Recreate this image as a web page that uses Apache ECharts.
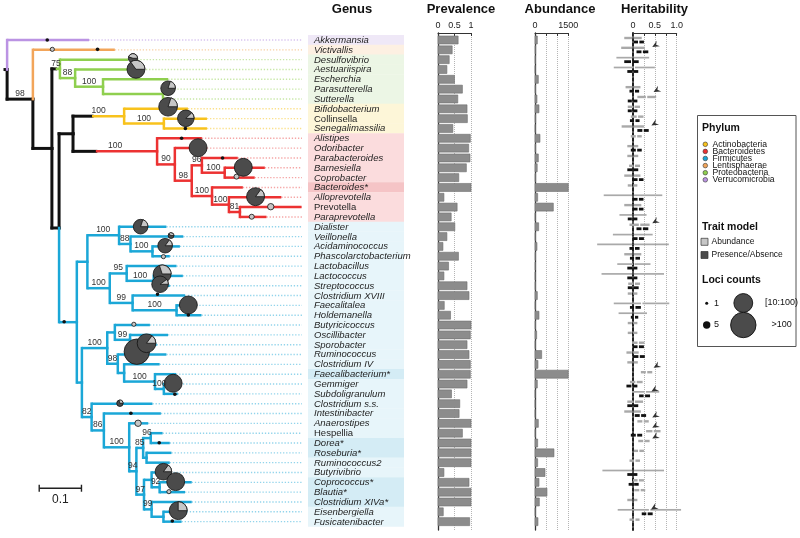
<!DOCTYPE html>
<html>
<head>
<meta charset="utf-8">
<script src="https://cdn.jsdelivr.net/npm/echarts@6/dist/echarts.min.js"></script>
<style>
html,body{margin:0;padding:0;background:#ffffff;}
#chart{width:800px;height:538px;}
</style>
</head>
<body>
<div id="chart"></div>
<script>
// ======================= DATA =======================
const genera = ['Akkermansia','Victivallis','Desulfovibrio','Aestuariispira','Escherchia','Parasutterella','Sutterella',
'Bifidobacterium','Collinsella','Senegalimassilia','Alistipes','Odoribacter','Parabacteroides','Barnesiella','Coprobacter',
'Bacteroides*','Alloprevotella','Prevotella','Paraprevotella','Dialister','Veillonella','Acidaminococcus',
'Phascolarctobacterium','Lactobacillus','Lactococcus','Streptococcus','Clostridium XVIII','Faecalitalea','Holdemanella',
'Butyricicoccus','Oscillibacter','Sporobacter','Ruminococcus','Clostridium IV','Faecalibacterium*','Gemmiger',
'Subdoligranulum','Clostridium s.s.','Intestinibacter','Anaerostipes','Hespellia','Dorea*','Roseburia*','Ruminococcus2',
'Butyrivibrio','Coprococcus*','Blautia*','Clostridium XIVa*','Eisenbergiella','Fusicatenibacter'];

// phylum code per genus (A Actinobacteria, B Bacteroidetes, F Firmicutes, L Lentisphaerae, P Proteobacteria, V Verrucomicrobia)
const genusPhylum = [
'V','L','P','P','P','P','P','A','A','A',
'B','B','B','B','B','B','B','B','B','F',
'F','F','F','F','F','F','F','F','F','F',
'F','F','F','F','F','F','F','F','F','F',
'F','F','F','F','F','F','F','F','F','F'];

const uprightGenera = ['Collinsella','Prevotella','Hespellia'];

const prevalence = [0.61,0.43,0.34,0.27,0.50,0.74,0.60,0.88,0.89,0.45,
0.98,0.93,0.97,0.86,0.63,1.00,0.18,0.58,0.40,0.51,
0.27,0.15,0.62,0.32,0.18,0.88,0.94,0.19,0.38,1.00,
0.98,0.88,0.94,0.98,0.98,0.88,0.41,0.66,0.64,1.00,
0.74,1.00,1.00,1.00,0.18,0.94,1.00,1.00,0.16,0.96];

const abundance = [105,30,20,10,150,25,90,180,30,15,
225,30,150,100,30,1500,120,825,15,165,
20,90,25,20,15,20,105,15,180,20,
75,15,300,135,1500,105,10,10,10,150,
15,120,855,120,450,180,540,195,15,135];

// heritability [low, median, high] ; abundance model (grey) and presence/absence model (black)
const herAbundance = [
[-0.20,0.00,0.20],[-0.27,0.00,0.27],[-0.38,0.00,0.37],[-0.44,0.03,0.50],null,
[-0.17,0.00,0.17],[0.10,0.31,0.53],[-0.12,0.02,0.16],[-0.05,0.10,0.24],[-0.26,0.00,0.25],
[-0.05,0.08,0.20],[-0.13,0.00,0.12],[-0.13,0.00,0.12],[-0.09,0.03,0.16],[-0.20,0.00,0.17],
[-0.12,-0.01,0.10],[-0.67,0.00,0.67],[-0.20,0.00,0.19],[-0.31,0.00,0.31],[-0.08,0.15,0.38],
[-0.46,0.00,0.45],[-0.82,0.00,0.82],[-0.20,0.00,0.19],[-0.36,0.02,0.40],[-0.72,0.00,0.71],
[-0.11,0.03,0.16],[-0.12,-0.01,0.10],[-0.44,0.20,0.83],[-0.33,0.00,0.32],[-0.12,-0.01,0.10],
[-0.12,-0.01,0.10],[-0.02,0.12,0.26],[-0.15,-0.01,0.13],[-0.13,0.00,0.11],[0.18,0.31,0.44],
[-0.07,0.07,0.22],[-0.02,0.28,0.60],[-0.13,0.03,0.23],[-0.20,0.00,0.18],[0.10,0.23,0.36],
[0.30,0.46,0.63],[0.12,0.25,0.38],[0.02,0.13,0.25],[-0.08,0.04,0.16],[-0.70,0.00,0.71],
[0.00,0.12,0.25],[0.03,0.16,0.28],[-0.13,0.00,0.10],[-0.35,0.38,1.10],[-0.08,0.04,0.15]];

const herPresence = [
[0.02,0.13,0.25],[0.08,0.21,0.35],[-0.20,-0.03,0.13],[-0.13,0.00,0.12],null,
[-0.08,0.03,0.14],[-0.12,-0.01,0.10],[-0.12,-0.01,0.10],[-0.07,0.04,0.15],[0.10,0.23,0.36],
null,[-0.05,0.08,0.20],null,[-0.13,0.00,0.12],[-0.02,0.12,0.24],
null,[0.00,0.12,0.24],[0.00,0.12,0.24],[-0.12,-0.01,0.10],[0.08,0.21,0.35],
[0.00,0.12,0.25],[-0.08,0.03,0.15],[-0.07,0.04,0.16],[-0.13,0.00,0.10],[-0.13,0.00,0.10],
[-0.12,0.00,0.13],null,[-0.07,0.04,0.18],[-0.05,0.03,0.12],null,
null,[0.00,0.12,0.25],[0.00,0.14,0.27],null,null,
[-0.15,-0.02,0.10],[0.14,0.26,0.39],[-0.13,0.00,0.12],[0.04,0.17,0.30],null,
[-0.05,0.08,0.21],null,null,null,[-0.13,0.00,0.10],
[-0.10,0.01,0.13],null,null,[0.20,0.32,0.45],null];

// arrows in heritability panel: [heritability, row]
const arrowMarks = [[0.50,0.55],[0.53,5.15],[0.48,8.55],[0.50,18.5],[0.53,33.2],[0.48,35.6],[0.50,38.25],[0.50,39.3],[0.50,40.4],[0.47,47.6]];

// tree: leaves are genus row indices, number after ':' is the node's distance from the root
const treeNewick =
"(0:0.194,(1:0.255,((2:0.286,(3:0.314,(4:0.381,(5:0.381,6:0.381)P4:0.369)P3:0.227)P2:0.161)P1:0.125," +
"(((7:0.428,(8:0.473,9:0.473)H:0.371)G:0.277,(10:0.461,(11:0.473,((12:0.546,(13:0.610,14:0.586)M:0.515)L:0.461,(15:0.558,(16:0.649,(17:0.697,18:0.614)Q:0.551)O:0.525)N:0.485)K:0.437)J:0.397)I:0.355)D:0.156," +
"(((19:0.377,(20:0.417,(21:0.409,22:0.385)V3:0.344)V2:0.292)V:0.265,((23:0.401,(24:0.416,25:0.385)L3:0.347)L2:0.283,(26:0.421,(27:0.433,28:0.460)E2:0.401)E1:0.297)L1:0.243)F1:0.190," +
"(((29:0.338,(30:0.381,31:0.354)R2:0.291)R1:0.255,(32:0.377,(33:0.361,(34:0.400,(35:0.409,36:0.404)R6:0.371)R5:0.350)R4:0.277)R3:0.262)R:0.237," +
"(37:0.344,(38:0.364,(39:0.334,(((40:0.368,41:0.385)T1:0.340,(42:0.389,43:0.385)T3:0.330)T2:0.322,((44:0.357,(45:0.437,46:0.421)T7:0.361)T5:0.342,(47:0.437,(48:0.425,49:0.413)T8:0.370)T6:0.342)T4:0.324)S4:0.306)S3:0.289)S2:0.229)S:0.200)F2:0.177)F:0.165)E:0.123)B:0.106)A:0.061)root:0";

// depth at which the phylum colour starts on some clade stems
const stemBreaks = {P1:0.115, G:0.201, I:0.210};

const bootstrap = [['A','98'],['P1','75'],['P2','88'],['P3','100'],['G','100'],['H','100'],['I','100'],['J','90'],
['K','98'],['L','96'],['M','100'],['N','100'],['O','100'],['Q','81'],['V','100'],['V2','88'],['V3','100'],
['L1','100'],['L2','95'],['L3','100'],['E1','99'],['E2','100'],['R','100'],['R2','99'],['R3','98'],['R5','100'],
['R6','100'],['S','82'],['S2','86'],['S3','100'],['S4','94'],['T2','85'],['T1','96'],['T7','92'],['T6','99'],['T4','97']];

// loci markers on tree: [depth, row, loci count, fraction from abundance model]
const lociMarks = [
[0.095,0.00,1,0],[0.107,0.95,2,1],[0.214,0.95,1,0],[0.298,1.86,11,0.45],[0.305,2.98,45,0.35],
[0.381,4.91,29,0.20],[0.381,6.79,49,0.20],[0.423,7.97,38,0.12],[0.422,9.00,1,0],[0.413,10.00,1,0],
[0.452,10.96,45,0],[0.510,12.00,1,0],[0.559,12.95,45,0],[0.543,13.90,3,1],[0.588,15.94,45,0.15],
[0.624,16.96,5,1],[0.579,17.98,3,1],[0.316,18.99,29,0.20],[0.388,19.90,4,0.40],[0.374,20.93,29,0.15],
[0.370,22.04,2,1],[0.367,23.80,45,0.30],[0.362,24.85,38,0.10],[0.356,25.87,1,0],[0.429,26.96,45,0],
[0.429,27.97,1,0],[0.135,28.66,1,0],[0.300,28.92,2,1],[0.307,31.71,150,0],[0.330,30.85,49,0.15],
[0.393,34.92,45,0],[0.397,36.04,1,0],[0.267,36.96,5,0.30],[0.293,37.98,1,0],[0.310,38.99,5,1],
[0.360,40.97,1,0],[0.370,43.92,38,0.15],[0.399,44.93,45,0],[0.383,45.95,2,1],[0.405,47.88,45,0.25],
[0.391,48.93,1,0]];

const scaleBar = [0.076, 0.176, 45.6];   // [start, end, row]
const scaleBarLabel = '0.1';

const prevTicks = [[0,'0'],[0.5,'0.5'],[1,'1']];
const abundTicks = [[0,'0'],[1500,'1500']];
const herTicks = [[0,'0'],[0.5,'0.5'],[1,'1.0']];

const phylumNames = {A:'Actinobacteria',B:'Bacteroidetes',F:'Firmicutes',L:'Lentisphaerae',P:'Proteobacteria',V:'Verrucomicrobia'};
const legendOrder = ['A','B','F','L','P','V'];
const legendLoci = [[1,'1'],[5,'5'],[50,'[10:100)'],[150,'>100']];

// ======================= STYLE =======================
const FONT = '"Liberation Sans", Arial, Helvetica, sans-serif';
const treeColor = {V:'#bb93e3', L:'#f2a55a', P:'#8fcf4f', A:'#f8c21c', B:'#ec3232', F:'#1ba7d7'};
const leaderColor = {V:'#d7c3ef', L:'#f7cfa2', P:'#c7e7a6', A:'#fbe08a', B:'#f5a5a5', F:'#92d4eb'};
const bandColor = {V:'#efe8f7', L:'#fdf0e2', P:'#ecf6e5', A:'#fdf6d8', B:'#fbdcdd', F:'#e7f5fa'};
const bandColorStar = {B:'#f5c4c6', F:'#d4ecf5'};
const DARK = '#4b4b4b', LIGHT = '#c6c6c6';
const ROW_MIN = -0.712, ROW_MAX = 49.85;
const TREE_XMIN = -0.005, TREE_XMAX = 0.698;

// ======================= TREE LAYOUT =======================
function parseNewick(str){
  const s = str.replace(/\s+/g,'');
  let i = 0;
  function readNode(){
    const node = {children:[]};
    if (s[i] === '('){
      i++;
      node.children.push(readNode());
      while (s[i] === ','){ i++; node.children.push(readNode()); }
      i++;
    }
    let name = '';
    while (i < s.length && ':,()'.indexOf(s[i]) < 0) name += s[i++];
    node.name = name;
    if (s[i] === ':'){
      i++; let num = '';
      while (i < s.length && /[0-9.eE+\-]/.test(s[i])) num += s[i++];
      node.depth = parseFloat(num);
    }
    return node;
  }
  return readNode();
}
const treeRoot = parseNewick(treeNewick);
const nodeByName = {};
const treeTips = [];
function layout(n){
  if (n.children.length === 0){
    n.row = parseInt(n.name,10); n.y = n.row; n.ph = genusPhylum[n.row]; treeTips.push(n);
  } else {
    n.children.forEach(layout);
    n.y = n.children.reduce((a,c)=>a+c.y,0)/n.children.length;
    const p = n.children[0].ph;
    n.ph = n.children.every(c=>c.ph===p) ? p : null;
    nodeByName[n.name] = n;
  }
}
layout(treeRoot);
const treeEdges = [{px:TREE_XMIN, py:treeRoot.y, x:treeRoot.depth, y:treeRoot.y, ph:null, brk:null}];
function collectEdges(n){
  n.children.forEach(c=>{
    c.parentDepth = n.depth;
    treeEdges.push({px:n.depth, py:n.y, x:c.depth, y:c.y, ph:c.ph, brk: (stemBreaks[c.name] !== undefined ? stemBreaks[c.name] : null)});
    collectEdges(c);
  });
}
collectEdges(treeRoot);
treeEdges.sort((a,b)=>(a.ph?1:0)-(b.ph?1:0));

function lociRadius(n){ return n > 100 ? 12.7 : 1.5*Math.pow(n,0.47); }

// ======================= CHART =======================
const chart = echarts.init(document.getElementById('chart'), null, {renderer:'canvas'});

function gridCfg(left, width){ return {left:left, top:33, width:width, height:497, containLabel:false, outerBoundsMode:'none'}; }
function hiddenY(gi){ return {gridIndex:gi, type:'value', inverse:true, min:ROW_MIN, max:ROW_MAX, show:false}; }
function lineY(gi, lineStyle){
  return {gridIndex:gi, type:'value', inverse:true, min:ROW_MIN, max:ROW_MAX, show:true,
    axisLine:{show:true, lineStyle:lineStyle}, axisTick:{show:false}, axisLabel:{show:false}, splitLine:{show:false}};
}
function tickFormatter(ticks){
  return function(v){ const t = ticks.find(k=>Math.abs(k[0]-v)<1e-9); return t ? t[1] : ''; };
}
function topX(gi, min, max, interval, ticks){
  return {gridIndex:gi, type:'value', position:'top', min:min, max:max, interval:interval,
    axisLine:{show:true, onZero:false, lineStyle:{color:'#333', width:1}},
    axisTick:{show:true, inside:true, length:3, lineStyle:{color:'#333'}},
    axisLabel:{show:true, fontSize:9, margin:3, color:'#222', fontFamily:FONT, formatter:tickFormatter(ticks), showMinLabel:true, showMaxLabel:true},
    splitLine:{show:true, lineStyle:{type:'dotted', color:'#b5b5b5', width:1}}};
}

const series = [];

// leaders (dotted lines from tips to panel edge)
series.push({type:'custom', xAxisIndex:0, yAxisIndex:0, silent:true, clip:false, z:1,
  data: treeTips.map(t=>[t.depth, t.y]),
  renderItem: function(params, api){
    const t = treeTips[params.dataIndex];
    const a = api.coord([t.depth, t.y]), b = api.coord([TREE_XMAX, t.y]);
    return {type:'line', shape:{x1:a[0], y1:a[1], x2:b[0], y2:b[1]},
      style:{stroke:leaderColor[t.ph], lineWidth:1.4, lineDash:[1.3,1.8]}};
  }});

// tree edges
series.push({type:'custom', xAxisIndex:0, yAxisIndex:0, silent:true, clip:false, z:2,
  data: treeEdges.map(e=>[e.x, e.y]),
  renderItem: function(params, api){
    const e = treeEdges[params.dataIndex];
    const p0 = api.coord([e.px, e.py]), p1 = api.coord([e.px, e.y]), p2 = api.coord([e.x, e.y]);
    const col = e.ph ? treeColor[e.ph] : '#111';
    const blackW = 3, colW = 2.5;
    const kids = [];
    const vCol = (e.ph && e.brk === null) ? col : '#111';
    kids.push({type:'line', shape:{x1:p0[0], y1:p0[1], x2:p1[0], y2:p1[1]},
      style:{stroke:vCol, lineWidth: vCol==='#111'?blackW:colW, lineCap:'square'}});
    if (e.brk !== null){
      const pb = api.coord([e.brk, e.y]);
      kids.push({type:'line', shape:{x1:p1[0], y1:p1[1], x2:pb[0], y2:pb[1]}, style:{stroke:'#111', lineWidth:blackW, lineCap:'square'}});
      kids.push({type:'line', shape:{x1:pb[0], y1:pb[1], x2:p2[0], y2:p2[1]}, style:{stroke:col, lineWidth:colW}});
    } else {
      kids.push({type:'line', shape:{x1:p1[0], y1:p1[1], x2:p2[0], y2:p2[1]},
        style:{stroke:col, lineWidth: e.ph?colW:blackW, lineCap: e.ph?'butt':'square'}});
    }
    return {type:'group', children:kids};
  }});

// loci pies
series.push({type:'custom', xAxisIndex:0, yAxisIndex:0, silent:true, clip:false, z:3,
  data: lociMarks.map(m=>[m[0], m[1]]),
  renderItem: function(params, api){
    const m = lociMarks[params.dataIndex];
    const c = api.coord([m[0], m[1]]);
    const r = lociRadius(m[2]), f = m[3];
    if (m[2] <= 1) return {type:'circle', shape:{cx:c[0], cy:c[1], r:r+0.3}, style:{fill:'#111'}};
    const kids = [{type:'circle', shape:{cx:c[0], cy:c[1], r:r}, style:{fill: f>=1?LIGHT:DARK, stroke:'#111', lineWidth:0.8}}];
    if (f > 0 && f < 1){
      kids.push({type:'sector', shape:{cx:c[0], cy:c[1], r0:0, r:r, startAngle:-f*2*Math.PI, endAngle:0, clockwise:true},
        style:{fill:LIGHT, stroke:'#111', lineWidth:0.8}});
    }
    return {type:'group', children:kids};
  }});

// bootstrap labels
series.push({type:'custom', xAxisIndex:0, yAxisIndex:0, silent:true, clip:false, z:4,
  data: bootstrap.map(b=>{ const n = nodeByName[b[0]]; return [(n.parentDepth+n.depth)/2, n.y]; }),
  renderItem: function(params, api){
    const b = bootstrap[params.dataIndex];
    const c = api.coord([api.value(0), api.value(1)]);
    return {type:'text', x:c[0], y:c[1]-0.8,
      style:{text:b[1], fill:'#333', fontSize:8.5, fontFamily:FONT, align:'center', verticalAlign:'bottom', textAlign:'center', textVerticalAlign:'bottom'}};
  }});

// scale bar
series.push({type:'custom', xAxisIndex:0, yAxisIndex:0, silent:true, clip:false, z:4,
  data: [[scaleBar[0], scaleBar[2]]],
  renderItem: function(params, api){
    const a = api.coord([scaleBar[0], scaleBar[2]]), b = api.coord([scaleBar[1], scaleBar[2]]);
    return {type:'group', children:[
      {type:'line', shape:{x1:a[0], y1:a[1], x2:b[0], y2:b[1]}, style:{stroke:'#222', lineWidth:1.4}},
      {type:'line', shape:{x1:a[0], y1:a[1]-3.5, x2:a[0], y2:a[1]+3.5}, style:{stroke:'#222', lineWidth:1.4}},
      {type:'line', shape:{x1:b[0], y1:b[1]-3.5, x2:b[0], y2:b[1]+3.5}, style:{stroke:'#222', lineWidth:1.4}},
      {type:'text', x:(a[0]+b[0])/2, y:a[1]+5, style:{text:scaleBarLabel, fill:'#222', fontSize:12, fontFamily:FONT, align:'center', verticalAlign:'top', textAlign:'center', textVerticalAlign:'top'}}
    ]};
  }});

// genus label bands
series.push({type:'custom', xAxisIndex:1, yAxisIndex:1, silent:true, clip:false, z:2,
  data: genera.map((g,i)=>[0, i]),
  renderItem: function(params, api){
    const i = params.dataIndex;
    const pL = api.coord([0, i]), pR = api.coord([1, i]);
    const h = api.size([0, 1])[1];
    const ph = genusPhylum[i];
    const star = genera[i].slice(-1) === '*';
    const fill = (star && bandColorStar[ph]) ? bandColorStar[ph] : bandColor[ph];
    const upright = uprightGenera.indexOf(genera[i]) >= 0;
    return {type:'group', children:[
      {type:'rect', shape:{x:pL[0], y:pL[1]-h/2-0.2, width:pR[0]-pL[0], height:h+0.4}, style:{fill:fill}},
      {type:'text', x:pL[0]+6, y:pL[1]+0.3, style:{text:genera[i], fill:'#1e1e1e', fontSize:9.5, fontFamily:FONT,
        fontStyle: upright?'normal':'italic', align:'left', verticalAlign:'middle', textAlign:'left', textVerticalAlign:'middle'}}
    ]};
  }});

function barRender(params, api){
  const v = api.value(0), row = api.value(1);
  const p0 = api.coord([0, row]), p1 = api.coord([v, row]);
  return {type:'rect', shape:{x:p0[0], y:p0[1]-4, width:Math.max(0, p1[0]-p0[0]), height:8},
    style:{fill:'#8c8c8c', stroke:'#6f6f6f', lineWidth:0.6}};
}
series.push({type:'custom', xAxisIndex:2, yAxisIndex:2, silent:true, clip:false, z:3,
  data: prevalence.map((v,i)=>[v,i]), renderItem: barRender});
series.push({type:'custom', xAxisIndex:3, yAxisIndex:3, silent:true, clip:false, z:3,
  data: abundance.map((v,i)=>[v,i]), renderItem: barRender});

// heritability intervals
const herData = [];
for (let i = 0; i < genera.length; i++){
  if (herAbundance[i]) herData.push([herAbundance[i][1], i, 0, herAbundance[i][0], herAbundance[i][2]]);
  if (herPresence[i]) herData.push([herPresence[i][1], i, 1, herPresence[i][0], herPresence[i][2]]);
}
series.push({type:'custom', xAxisIndex:4, yAxisIndex:4, silent:true, clip:false, z:3,
  data: herData,
  renderItem: function(params, api){
    const d = herData[params.dataIndex];
    const med = d[0], row = d[1], type = d[2], lo = d[3], hi = d[4];
    const off = type === 0 ? -2 : 2;
    const pLo = api.coord([lo,row]), pHi = api.coord([hi,row]), pMed = api.coord([med,row]);
    const y = pLo[1] + off;
    const wide = (hi - lo) > 0.6;
    const w = wide ? 1.7 : (type === 0 ? 2.4 : 2.8);
    const col = type === 0 ? '#a9a9a9' : '#111';
    return {type:'group', children:[
      {type:'line', shape:{x1:pLo[0], y1:y, x2:pMed[0]-0.7, y2:y}, style:{stroke:col, lineWidth:w}},
      {type:'line', shape:{x1:pMed[0]+0.7, y1:y, x2:pHi[0], y2:y}, style:{stroke:col, lineWidth:w}}
    ]};
  }});

// arrows
series.push({type:'custom', xAxisIndex:4, yAxisIndex:4, silent:true, clip:false, z:4,
  data: arrowMarks.map(a=>[a[0], a[1]]),
  renderItem: function(params, api){
    const c = api.coord([api.value(0), api.value(1)]);
    const dx = -0.866, dy = 0.5, qx = 0.5, qy = 0.866;
    const tip = [c[0]+3*dx, c[1]+3*dy];
    const b1 = [tip[0]-7*dx+3.2*qx, tip[1]-7*dy+3.2*qy];
    const nt = [tip[0]-4.5*dx, tip[1]-4.5*dy];
    const b2 = [tip[0]-7*dx-3.2*qx, tip[1]-7*dy-3.2*qy];
    return {type:'polygon', shape:{points:[tip,b1,nt,b2]}, style:{fill:'#333'}};
  }});

// ---------- headers & legend (graphic) ----------
function txt(x, y, text, size, bold, align){
  return {type:'text', x:x, y:y, silent:true,
    style:{text:text, fill:'#111', font:(bold?'bold ':'')+size+'px '+FONT, fontSize:size, fontWeight:bold?'bold':'normal', fontFamily:FONT,
      textAlign:align||'left', textVerticalAlign:'middle', align:align||'left', verticalAlign:'middle'}};
}
const graphics = [
  txt(352, 9, 'Genus', 13, true, 'center'),
  txt(461, 9, 'Prevalence', 13, true, 'center'),
  txt(560, 9, 'Abundance', 13, true, 'center'),
  txt(654.5, 9, 'Heritability', 13, true, 'center'),
  {type:'rect', silent:true, shape:{x:697.5, y:115.5, width:98.5, height:231}, style:{fill:'#fff', stroke:'#555', lineWidth:1}},
  txt(702, 128.5, 'Phylum', 10.5, true),
  txt(702, 226.7, 'Trait model', 10.5, true),
  txt(702, 280, 'Loci counts', 10.5, true)
];
legendOrder.forEach((k,i)=>{
  const y = 144.3 + 7.1*i;
  graphics.push({type:'circle', silent:true, shape:{cx:705.3, cy:y, r:2.3}, style:{fill:treeColor[k], stroke:'#333', lineWidth:0.6}});
  graphics.push(txt(712.5, y, phylumNames[k], 8.6, false));
});
graphics.push({type:'rect', silent:true, shape:{x:701, y:238.3, width:7, height:7}, style:{fill:LIGHT, stroke:'#333', lineWidth:0.7}});
graphics.push(txt(711.5, 241.8, 'Abundance', 8.5, false));
graphics.push({type:'rect', silent:true, shape:{x:701, y:251.5, width:7, height:7}, style:{fill:DARK, stroke:'#333', lineWidth:0.7}});
graphics.push(txt(711.5, 255, 'Presence/Absence', 8.5, false));
// loci size legend
const lociPos = [[706.7,303.3,714],[706.7,325,714],[743.3,303,765],[743.3,325,771.5]];
legendLoci.forEach((l,i)=>{
  const p = lociPos[i];
  const r = lociRadius(l[0]);
  if (l[0] <= 5) graphics.push({type:'circle', silent:true, shape:{cx:p[0], cy:p[1], r:l[0]<=1?r:r+0.5}, style:{fill:'#111'}});
  else graphics.push({type:'circle', silent:true, shape:{cx:p[0], cy:p[1], r:r}, style:{fill:DARK, stroke:'#111', lineWidth:0.9}});
  graphics.push(txt(p[2], p[1], l[1], 9, false));
});

const option = {
  backgroundColor:'#ffffff',
  animation:false,
  grid:[gridCfg(5,297), gridCfg(308,96), gridCfg(438,33), gridCfg(535,33.3), gridCfg(633,43.7)],
  xAxis:[
    {gridIndex:0, type:'value', min:TREE_XMIN, max:TREE_XMAX, show:false},
    {gridIndex:1, type:'value', min:0, max:1, show:false},
    topX(2, 0, 1, 0.5, prevTicks),
    topX(3, 0, 1500, 500, abundTicks),
    topX(4, 0, 1, 0.25, herTicks)
  ],
  yAxis:[
    hiddenY(0), hiddenY(1),
    lineY(2, {color:'#333', width:1.3}),
    lineY(3, {color:'#333', width:1.3}),
    lineY(4, {color:'#222', width:2, type:[3,2]})
  ],
  series: series,
  graphic: {elements: graphics}
};
chart.setOption(option);
</script>
</body>
</html>
